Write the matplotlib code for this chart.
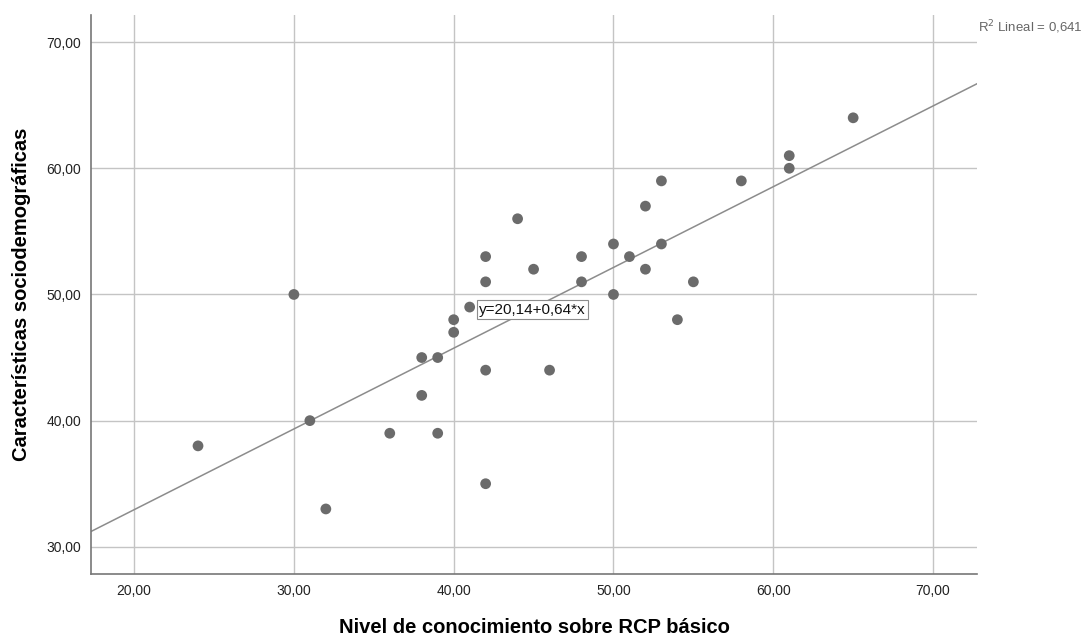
import numpy as np
import matplotlib.pyplot as plt

plt.rcParams['font.family'] = ['Liberation Sans', 'DejaVu Sans']

# datos
nivel_rcp = [24, 30, 31, 32, 36, 38, 38, 39, 39, 40, 40, 41, 42, 42, 42, 42, 44,
             45, 46, 48, 48, 50, 50, 51, 52, 52, 53, 53, 54, 55, 58, 61, 61, 65]
caract = [38, 50, 40, 33, 39, 45, 42, 45, 39, 48, 47, 49, 53, 51, 44, 35, 56,
          52, 44, 53, 51, 54, 50, 53, 57, 52, 59, 54, 48, 51, 59, 61, 60, 64]
intercepto = 20.14
pendiente = 0.64
r2 = 0.641
xticks = [20, 30, 40, 50, 60, 70]
yticks = [30, 40, 50, 60, 70]

fig = plt.figure(figsize=(10.84, 6.37), dpi=100)
ax = fig.add_axes([0.0839, 0.0990, 0.8174, 0.8775])

xmin, xmax = 17.3, 72.75
ymin, ymax = 27.85, 72.15

ax.set_xlim(xmin, xmax)
ax.set_ylim(ymin, ymax)
ax.set_xticks(xticks)
ax.set_yticks(yticks)
ax.set_xticklabels([f"{v:.2f}".replace('.', ',') for v in xticks])
ax.set_yticklabels([f"{v:.2f}".replace('.', ',') for v in yticks])
ax.tick_params(length=0, labelsize=10, colors='#222222', pad=7)

ax.grid(True, color='#c4c4c4', linewidth=1)
ax.set_axisbelow(True)
for s in ['top', 'right']:
    ax.spines[s].set_visible(False)
for s in ['left', 'bottom']:
    ax.spines[s].set_color('#777777')
    ax.spines[s].set_linewidth(1.2)

# recta de ajuste
xs = np.array([xmin, xmax])
ax.plot(xs, intercepto + pendiente * xs, color='#8c8c8c', linewidth=1.1, zorder=2)

ax.scatter(nivel_rcp, caract, s=60, color='#6b6b6b', edgecolors='none', zorder=3)

ax.text(41.6, 48.8, "y=20,14+0,64*x", fontsize=11, ha='left', va='center',
        color='#111111', zorder=4,
        bbox=dict(boxstyle='square,pad=0.15', facecolor='white', edgecolor='#8c8c8c', linewidth=0.8))

fig.text(0.902, 0.958, "R$^2$ Lineal = " + f"{r2:.3f}".replace('.', ','),
         fontsize=9.5, color='#666666', ha='left', va='center')

ax.set_xlabel("Nivel de conocimiento sobre RCP básico", fontsize=14.5, fontweight='bold',
              va='center')
ax.set_ylabel("Características sociodemográficas", fontsize=14.5, fontweight='bold',
              va='center')
ax.xaxis.set_label_coords(0.5, -0.0966)
ax.yaxis.set_label_coords(-0.078, 0.5)

fig.savefig("out.png", dpi=100)
